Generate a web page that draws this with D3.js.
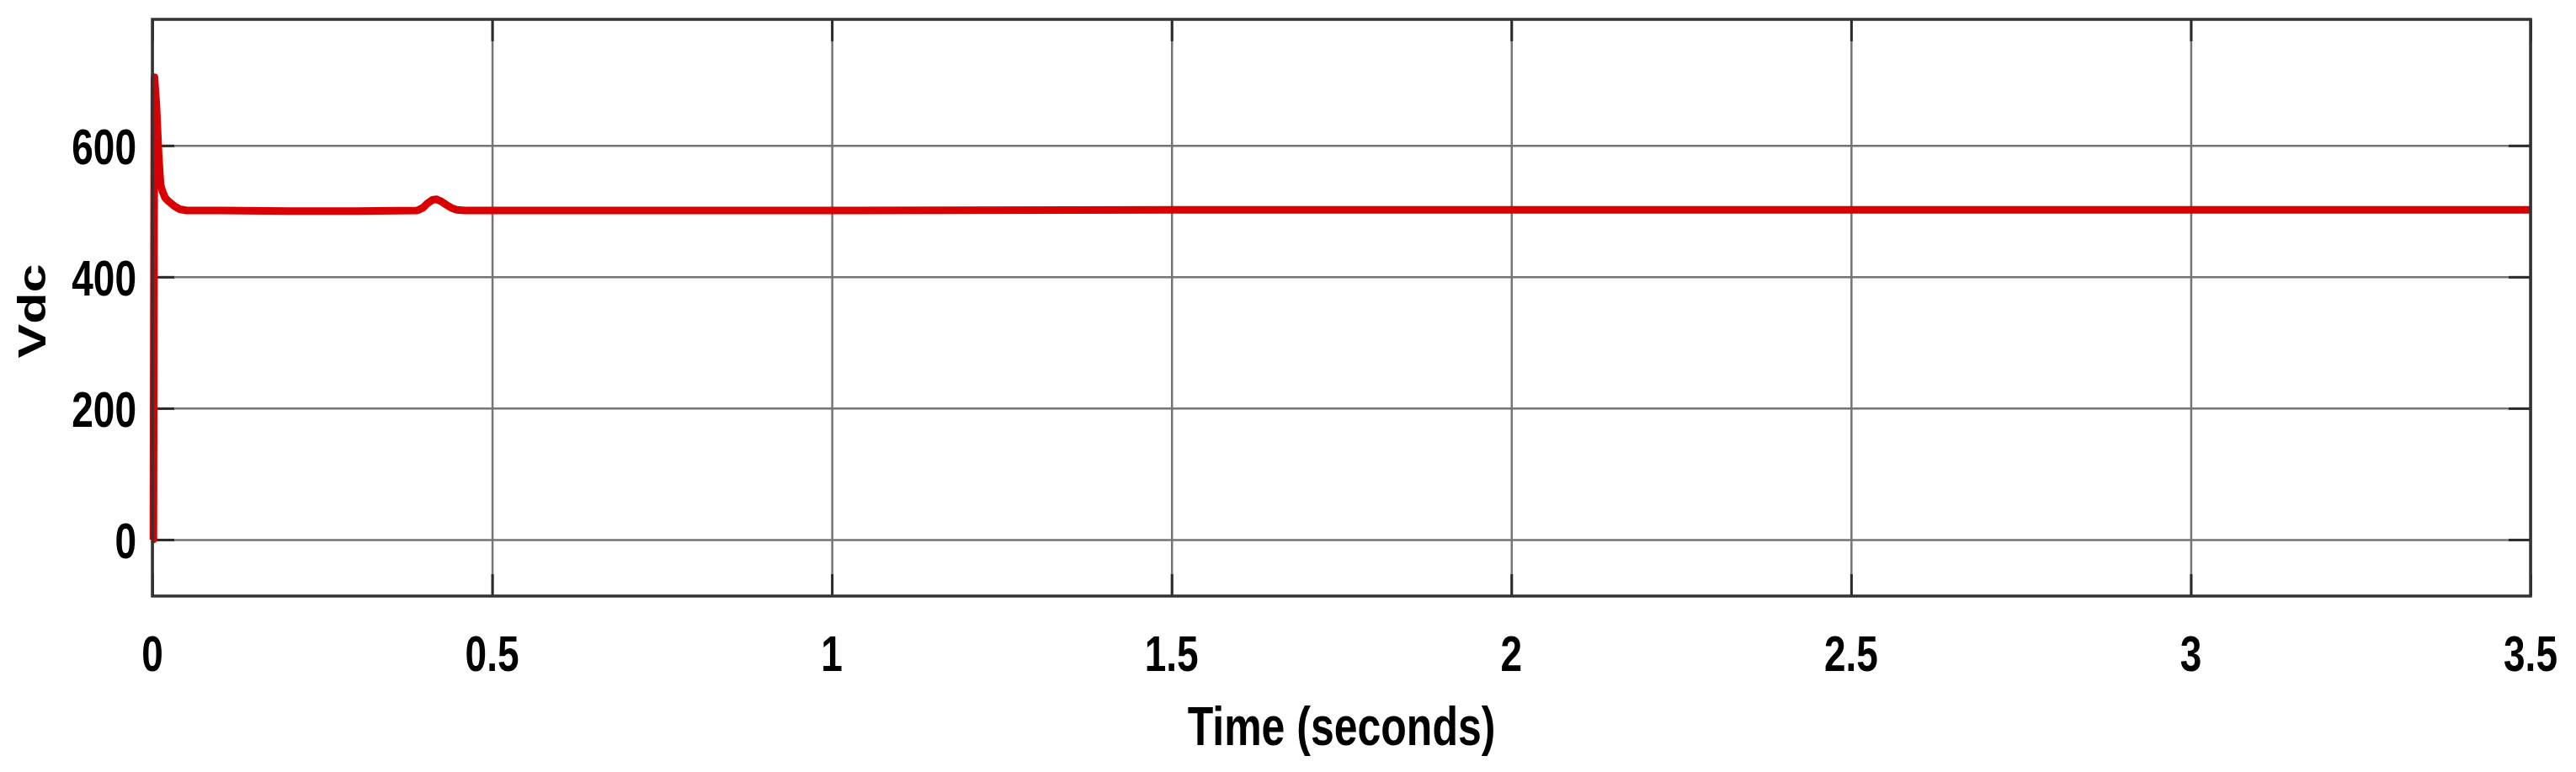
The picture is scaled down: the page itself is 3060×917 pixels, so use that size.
<!DOCTYPE html>
<meta charset="utf-8">
<style>
body { margin: 0; background: #fff; }
text {
	font-family: "Liberation Sans", Arial, sans-serif;
	font-weight: bold;
	fill: #000;
}
</style>
<svg width="3060" height="917"></svg>
<script src="https://d3js.org/d3.v7.min.js"></script>
<script>
	// Vdc trace (time in s, volts)
	var time = [0, 0.0015, 0.003, 0.006, 0.009, 0.012, 0.015, 0.019, 0.025, 0.032, 0.04, 0.05, 0.1, 0.2, 0.3, 0.39, 0.398, 0.405, 0.412, 0.418, 0.425, 0.432, 0.44, 0.448, 0.46, 0.5, 0.75, 1, 1.5, 2, 2.5, 3, 3.5];
	var vdc = [0, 0, 704, 660, 590, 540, 530, 520, 514, 508, 503, 501, 501, 500, 500, 501, 505, 512, 517, 518, 515, 510, 505, 502, 501, 501, 501, 501, 502, 502, 502, 502, 502];
	var xTicks = [0, 0.5, 1, 1.5, 2, 2.5, 3, 3.5];
	var xTickLabels = ["0", "0.5", "1", "1.5", "2", "2.5", "3", "3.5"];
	var yTicks = [0, 200, 400, 600];

	var svg = d3.select("svg");
	var plotLeft = 181, plotRight = 3006, plotTop = 23, plotBottom = 708;
	var stretch = 1.3; // text in the picture is taller than it is wide

	var x = d3.scaleLinear().domain([0, 3.5]).range([plotLeft, plotRight]);
	var y = d3.scaleLinear().domain([-86, 792]).range([plotBottom, plotTop]);

	// grid
	function greyGrid(g) {
		g.select(".domain").remove();
		g.selectAll("line").attr("stroke", "#747474").attr("stroke-width", 2.5);
	}
	svg.append("g")
		.attr("transform", "translate(0," + plotBottom + ")")
		.call(d3.axisBottom(x).tickValues(xTicks).tickSize(-(plotBottom - plotTop)).tickFormat(""))
		.call(greyGrid);
	svg.append("g")
		.attr("transform", "translate(" + plotLeft + ",0)")
		.call(d3.axisLeft(y).tickValues(yTicks).tickSize(-(plotRight - plotLeft)).tickFormat(""))
		.call(greyGrid);

	// inner ticks on all four sides
	var tickLen = 26;
	function darkTicks(g) {
		g.select(".domain").remove();
		g.selectAll("line").attr("stroke", "#2a2a2a").attr("stroke-width", 3);
	}
	svg.append("g").attr("transform", "translate(0," + plotBottom + ")")
		.call(d3.axisBottom(x).tickValues(xTicks).tickSize(-tickLen).tickFormat("")).call(darkTicks);
	svg.append("g").attr("transform", "translate(0," + plotTop + ")")
		.call(d3.axisTop(x).tickValues(xTicks).tickSize(-tickLen).tickFormat("")).call(darkTicks);
	svg.append("g").attr("transform", "translate(" + plotLeft + ",0)")
		.call(d3.axisLeft(y).tickValues(yTicks).tickSize(-tickLen).tickFormat("")).call(darkTicks);
	svg.append("g").attr("transform", "translate(" + plotRight + ",0)")
		.call(d3.axisRight(y).tickValues(yTicks).tickSize(-tickLen).tickFormat("")).call(darkTicks);

	// signal
	var line = d3.line()
		.x(function(d, i) { return x(time[i]); })
		.y(function(d) { return y(d); });
	svg.append("path")
		.datum(vdc)
		.attr("d", line)
		.attr("fill", "none")
		.attr("stroke", "#d80000")
		.attr("stroke-width", 9)
		.attr("stroke-linejoin", "round");

	// frame
	svg.append("rect")
		.attr("x", plotLeft)
		.attr("y", plotTop)
		.attr("width", plotRight - plotLeft)
		.attr("height", plotBottom - plotTop)
		.attr("fill", "none")
		.attr("stroke", "#333")
		.attr("stroke-width", 3.5);

	// tick labels
	svg.selectAll(".xlab")
		.data(xTicks)
		.enter().append("text")
		.attr("class", "xlab")
		.attr("transform", function(d) { return "translate(" + x(d) + ",797) scale(1," + stretch + ")"; })
		.style("font-size", "46px")
		.style("text-anchor", "middle")
		.text(function(d, i) { return xTickLabels[i]; });

	svg.selectAll(".ylab")
		.data(yTicks)
		.enter().append("text")
		.attr("class", "ylab")
		.attr("transform", function(d) { return "translate(162," + (y(d) + 22) + ") scale(1," + stretch + ")"; })
		.style("font-size", "46px")
		.style("text-anchor", "end")
		.text(function(d) { return d; });

	// axis titles
	svg.append("text")
		.attr("transform", "translate(" + ((plotLeft + plotRight) / 2) + ",885) scale(1," + stretch + ")")
		.style("font-size", "50px")
		.style("text-anchor", "middle")
		.text("Time (seconds)");

	svg.append("text")
		.attr("transform", "translate(54," + ((plotTop + plotBottom) / 2 + 4) + ") scale(1," + stretch + ") rotate(-90)")
		.style("font-size", "47px")
		.style("text-anchor", "middle")
		.text("Vdc");
</script>
